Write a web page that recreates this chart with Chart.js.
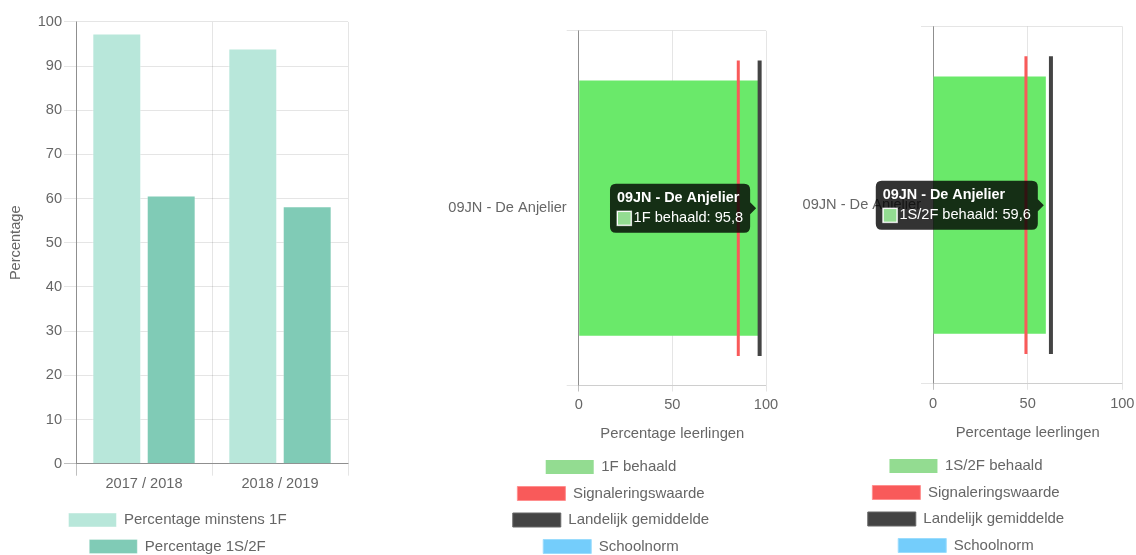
<!DOCTYPE html>
<html>
<head>
<meta charset="utf-8">
<script src="https://cdn.jsdelivr.net/npm/chart.js@4/dist/chart.umd.min.js"></script>
<style>
html, body { margin: 0; padding: 0; background: #fff; overflow: hidden; width: 1136px; height: 555px; }
canvas { position: absolute; top: 0; }
#c1 { left: 0; }
#c2 { left: 430px; }
#c3 { left: 790px; }
</style>
</head>
<body>
<canvas id="c1" width="360" height="570" style="width:360px;height:570px"></canvas>
<canvas id="c2" width="370" height="570" style="width:370px;height:570px"></canvas>
<canvas id="c3" width="346" height="570" style="width:346px;height:570px"></canvas>
<script>
// ---- data ----
const trendCategories = ['2017 / 2018', '2018 / 2019'];
const pctMinstens1F = [97.4, 94.0];
const pct1S2F = [60.7, 58.3];

const schoolLabels = ['09JN - De Anjelier'];
const behaald1F = [95.8];
const signalering1F = [85.2];
const landelijk1F = [96.6];
const schoolnorm1F = [];

const behaald1S2F = [59.6];
const signalering1S2F = [49.1];
const landelijk1S2F = [62.3];
const schoolnorm1S2F = [];

// ---- styling ----
const LIGHT = 'rgba(0,0,0,0.1)';
const DARK = 'rgba(0,0,0,0.25)';
const GREEN = '#93dc91';
const GREEN_HOVER = '#6ae96a';
const RED = '#f95a5a';
const BLACK = '#444444';
const BLUE = '#74cdfb';

Chart.defaults.font.family = "'Liberation Sans', Arial, Helvetica, sans-serif";
Chart.defaults.font.size = 14.6;
Chart.defaults.color = '#666';

Chart.Tooltip.positioners.barEnd = function (items) {
  if (!items.length) return false;
  const el = items[0].element;
  return { x: el.x, y: el.y };
};

const legendOpts = {
  position: 'bottom',
  labels: {
    boxWidth: 48, boxHeight: 14, padding: 11.5,
    font: { size: 15 }, color: '#666',
    sort: (a, b) => a.datasetIndex - b.datasetIndex
  }
};

// Chart 1: trend
new Chart(document.getElementById('c1'), {
  type: 'bar',
  data: {
    labels: trendCategories,
    datasets: [
      { label: 'Percentage minstens 1F', data: pctMinstens1F, backgroundColor: '#b8e7da', borderColor: 'rgba(255,255,255,0.45)', borderWidth: 1 },
      { label: 'Percentage 1S/2F', data: pct1S2F, backgroundColor: '#80cbb6', borderColor: 'rgba(255,255,255,0.3)', borderWidth: 1 }
    ]
  },
  options: {
    responsive: false, animation: false, events: [],
    layout: { padding: { left: 7, right: 12, top: 21.9, bottom: 6 } },
    plugins: { legend: legendOpts, tooltip: { enabled: false } },
    scales: {
      x: {
        grid: { offset: true, tickLength: 12, color: ctx => ctx.index === 0 ? DARK : LIGHT },
        border: { color: DARK },
        ticks: { padding: 0 },
        afterFit: s => { s.height = 37.3; }
      },
      y: {
        min: 0, max: 100,
        ticks: { stepSize: 10, padding: 2 },
        grid: { tickLength: 12, color: ctx => (ctx.tick && ctx.tick.value === 0) ? DARK : LIGHT },
        border: { color: DARK },
        title: { display: true, text: 'Percentage', padding: 0 },
        afterFit: s => { s.width = 69; }
      }
    }
  }
});

function refLine(label, values, color, edge, width, order) {
  const rad = ctx => {
    const s = ctx.chart.scales.y;
    return s ? (s.bottom - s.top) * 0.4165 : 0;
  };
  return {
    type: 'line', label, order,
    data: values.map((v, i) => ({ x: v, y: schoolLabels[i] })),
    showLine: false,
    backgroundColor: color, borderColor: edge, borderWidth: 1,
    pointStyle: 'line', pointRotation: 90,
    pointRadius: rad, pointHoverRadius: rad,
    pointBorderWidth: width, pointHoverBorderWidth: width,
    pointBorderColor: color, pointHoverBorderColor: color,
    pointBackgroundColor: color, pointHoverBackgroundColor: color,
    clip: false
  };
}

function makeHorizontal(canvasId, barLabel, barValues, sigValues, landValues, normValues, lay) {
  const chart = new Chart(document.getElementById(canvasId), {
    type: 'bar',
    data: {
      labels: schoolLabels,
      datasets: [
        { type: 'bar', label: barLabel, data: barValues, order: 1,
          backgroundColor: GREEN, hoverBackgroundColor: GREEN_HOVER,
          borderColor: 'rgba(255,255,255,0.7)', borderWidth: 0 },
        refLine('Signaleringswaarde', sigValues, RED, '#ff8f8f', 3, 0),
        refLine('Landelijk gemiddelde', landValues, BLACK, '#666666', 4, 0),
        refLine('Schoolnorm', normValues, BLUE, '#9adcfd', 3, 0)
      ]
    },
    options: {
      indexAxis: 'y',
      responsive: false, animation: false, events: [],
      layout: { autoPadding: false, padding: { left: lay.padL, right: lay.padR, top: lay.padT, bottom: lay.padB } },
      plugins: {
        legend: legendOpts,
        tooltip: {
          position: 'barEnd', xAlign: 'right', yAlign: 'center',
          backgroundColor: 'rgba(0,0,0,0.8)',
          titleFont: { weight: 'bold', size: 14.4, lineHeight: 1 },
          bodyFont: { size: 14.6, lineHeight: 1 },
          padding: 7, cornerRadius: 6, caretSize: 6, caretPadding: 2,
          titleMarginBottom: 6,
          callbacks: {
            label: item => item.dataset.label + ': ' + item.parsed.x.toLocaleString('nl-NL')
          }
        }
      },
      scales: {
        x: {
          min: 0, max: 100,
          ticks: { stepSize: 50, padding: 5, maxRotation: 0 },
          grid: { tickLength: 6, color: ctx => (ctx.tick && ctx.tick.value === 0) ? DARK : LIGHT },
          border: { color: LIGHT },
          title: { display: true, text: 'Percentage leerlingen', padding: { top: 0, bottom: 5.2 }, font: { size: 14.8 } },
          afterFit: s => { s.height = lay.xH; s.paddingRight = lay.right; }
        },
        y: {
          grid: { tickLength: 12, color: LIGHT },
          border: { color: DARK },
          ticks: { padding: 0 },
          afterFit: s => { s.width = lay.yW; }
        }
      }
    }
  });
  const active = [{ datasetIndex: 0, index: 0 }];
  chart.setActiveElements(active);
  chart.tooltip.setActiveElements(active, { x: 0, y: 0 });
  chart.update();
  return chart;
}

makeHorizontal('c2', '1F behaald', behaald1F, signalering1F, landelijk1F, schoolnorm1F,
  { padL: 11, padR: 19, padT: 30.8, padB: 6, xH: 62.5, right: 34, yW: 137.7 });
makeHorizontal('c3', '1S/2F behaald', behaald1S2F, signalering1S2F, landelijk1S2F, schoolnorm1S2F,
  { padL: 6, padR: 0, padT: 26.5, padB: 7, xH: 63.2, right: 13.7, yW: 137 });
</script>
</body>
</html>
